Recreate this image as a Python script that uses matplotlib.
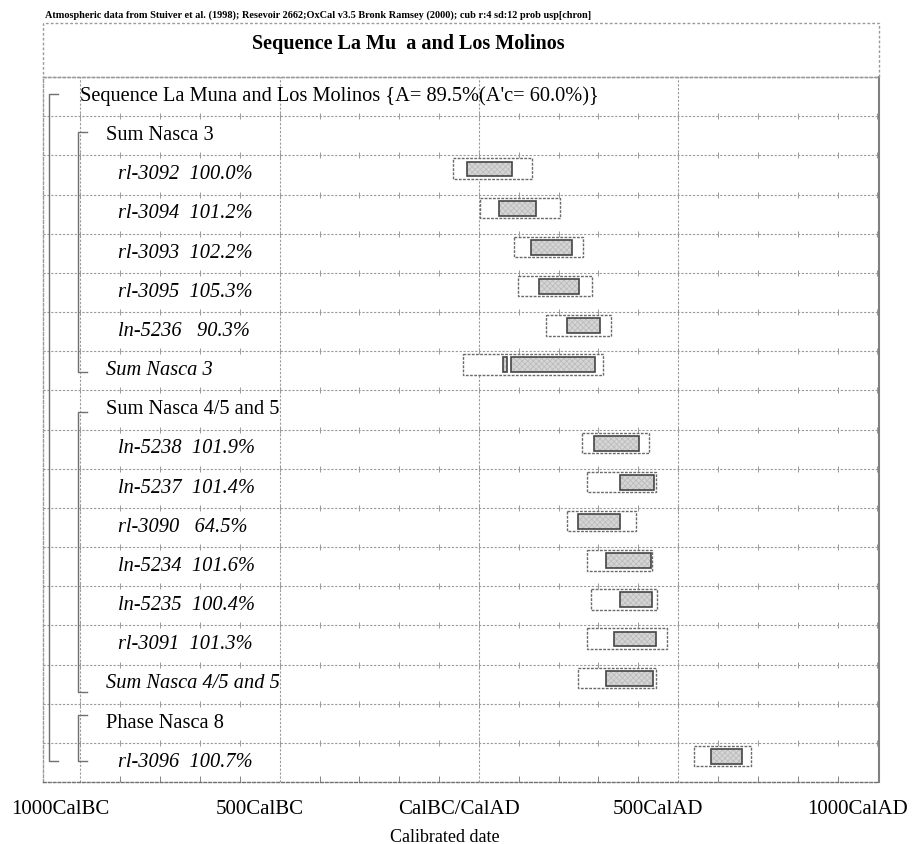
import numpy as np
import matplotlib
matplotlib.use("Agg")
import matplotlib.pyplot as plt
from matplotlib.patches import Rectangle
from matplotlib.transforms import ScaledTranslation, blended_transform_factory

plt.rcParams['font.family'] = ['Liberation Serif', 'DejaVu Serif']
plt.rcParams['hatch.linewidth'] = 0.6

# row labels (top to bottom) and their style
labels = ["Sequence La Muna and Los Molinos {A= 89.5%(A'c= 60.0%)}",
          "Sum Nasca 3",
          "rl-3092  100.0%", "rl-3094  101.2%", "rl-3093  102.2%",
          "rl-3095  105.3%", "ln-5236   90.3%",
          "Sum Nasca 3",
          "Sum Nasca 4/5 and 5",
          "ln-5238  101.9%", "ln-5237  101.4%", "rl-3090   64.5%",
          "ln-5234  101.6%", "ln-5235  100.4%", "rl-3091  101.3%",
          "Sum Nasca 4/5 and 5",
          "Phase Nasca 8",
          "rl-3096  100.7%"]
kinds = ["seq", "grp", "s", "s", "s", "s", "s", "sum", "grp",
         "s", "s", "s", "s", "s", "s", "sum", "grp", "s"]

# calibrated ranges (years, BC negative): 95.4% outer, 68.2% inner pieces
box_rows = [2, 3, 4, 5, 6, 7, 9, 10, 11, 12, 13, 14, 15, 17]
outer_lo = [-66, 3, 89, 99, 168, -39, 259, 272, 220, 272, 281, 272, 249, 540]
outer_hi = [132, 203, 260, 284, 331, 311, 426, 444, 393, 435, 446, 472, 444, 684]
inner = [[(-29, 82)], [(51, 143)], [(130, 233)], [(151, 251)], [(220, 304)],
         [(61, 71), (80, 291)],
         [(290, 402)], [(354, 439)], [(249, 355)], [(320, 431)], [(354, 434)],
         [(339, 444)], [(320, 436)], [(582, 661)]]

# brackets: (x year, top row, bottom row)
brackets = [(-1079, 0.43, 17.46), (-1006, 1.40, 7.53),
            (-1006, 8.55, 15.70), (-1006, 16.30, 17.46)]

xticks = [-1000, -500, 0, 500, 1000]
xticklabels = ["1000CalBC", "500CalBC", "CalBC/CalAD", "500CalAD", "1000CalAD"]

fig = plt.figure(figsize=(9.24, 8.45), dpi=100)
ax = fig.add_axes([43 / 924, 1 - 783 / 845, 836 / 924, 705 / 845])
nrows = len(labels)
ax.set_xlim(-1094, 1004)
ax.set_ylim(nrows, 0)

grid_c = "#9a9a9a"
# vertical grid lines
for x in xticks[:-1]:
    ax.axvline(x, color=grid_c, lw=0.8, ls=(0, (2, 1.5)), zorder=1)
# horizontal row lines with 100-year ticks
minor = np.arange(-1000, 1001, 100)
for r in range(1, nrows):
    ax.axhline(r, color=grid_c, lw=0.8, ls=(0, (2, 1.5)), zorder=1)
    ax.plot(minor, np.full(len(minor), r), ls="none", marker="|",
            ms=5, mew=0.7, color=grid_c, zorder=1)

# brackets
for bx, top, bot in brackets:
    ax.plot([bx + 23, bx, bx, bx + 23], [top, top, bot, bot],
            color="#707070", lw=1.0, zorder=2)

# boxes
for r, lo, hi, pieces in zip(box_rows, outer_lo, outer_hi, inner):
    ax.add_patch(Rectangle((lo, r + 0.08), hi - lo, 0.52, facecolor="white",
                           edgecolor="#6a6a6a", lw=1.0, ls=(0, (2, 1)), zorder=3))
    for a, b in pieces:
        ax.add_patch(Rectangle((a, r + 0.16), b - a, 0.38, facecolor="#d6d6d6",
                               edgecolor="#bcbcbc", hatch="xxxxxx", lw=0, zorder=4))
        ax.add_patch(Rectangle((a, r + 0.16), b - a, 0.38, facecolor="none",
                               edgecolor="#454545", lw=1.2, zorder=5))

# row labels
tr = blended_transform_factory(ax.transAxes, ax.transData)
xpos = {"seq": 0.0443, "grp": 0.0754, "sum": 0.0754, "s": 0.0897}
for r, (txt, k) in enumerate(zip(labels, kinds)):
    st = "italic" if k in ("s", "sum") else "normal"
    ax.text(xpos[k], r + 0.47, txt, transform=tr, fontsize=14.7, style=st,
            va="center", ha="left", zorder=6)

# axis and frame
ax.set_xticks(xticks)
ax.set_xticklabels(xticklabels, fontsize=15)
ax.set_xticks(minor, minor=True)
ax.tick_params(axis="x", which="major", length=0, pad=12)
ax.tick_params(axis="x", which="minor", direction="in", length=4, color="#707070")
ax.set_yticks([])
off = ScaledTranslation(-20 / 100, 0, fig.dpi_scale_trans)
for lab in ax.get_xticklabels():
    lab.set_transform(lab.get_transform() + off)
for s in ["left", "top", "bottom"]:
    ax.spines[s].set_color(grid_c)
    ax.spines[s].set_linestyle((0, (2, 1.5)))
    ax.spines[s].set_linewidth(1.0)
ax.spines["bottom"].set_color("#707070")
ax.spines["right"].set_color("#808080")
ax.spines["right"].set_linewidth(1.5)

# title box
fig.patches.append(Rectangle((43 / 924, 1 - 78 / 845), 836 / 924, 54 / 845,
                             transform=fig.transFigure, facecolor="none",
                             edgecolor=grid_c, lw=1.0, ls=(0, (2, 1.5))))
fig.text(408 / 924, 1 - 44 / 845, "Sequence La Mu  a and Los Molinos",
         fontsize=14.5, fontweight="bold", ha="center", va="center")
fig.text(45 / 924, 1 - 15 / 845,
         "Atmospheric data from Stuiver et al. (1998); Resevoir 2662;OxCal v3.5 "
         "Bronk Ramsey (2000); cub r:4 sd:12 prob usp[chron]",
         fontsize=7.4, fontweight="bold", ha="left", va="center")
fig.text(445 / 924, 1 - 838 / 845, "Calibrated date", fontsize=13,
         ha="center", va="center")

fig.savefig("out.png", dpi=100)
